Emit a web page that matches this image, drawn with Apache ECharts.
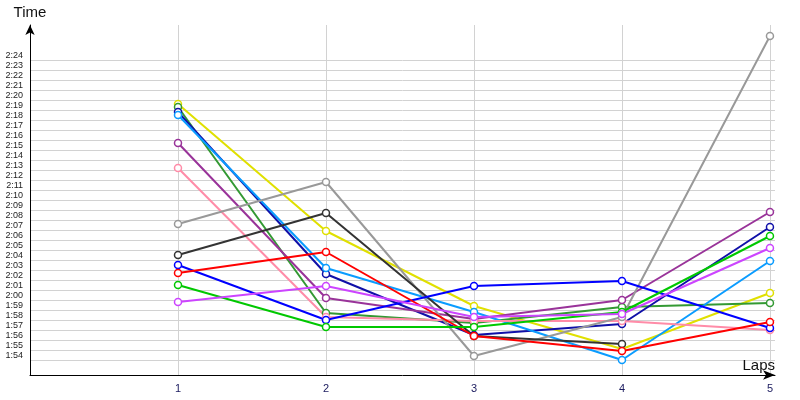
<!DOCTYPE html>
<html>
<head>
<meta charset="utf-8">
<script src="https://cdn.jsdelivr.net/npm/echarts@6/dist/echarts.min.js"></script>
<style>html,body{margin:0;padding:0;background:#fff}#c{width:800px;height:400px}</style>
</head>
<body>
<div id="c"></div>
<script>
// Lap numbers
const laps = [1, 2, 3, 4, 5];
// Lap times in seconds
const yellow     = [139.6, 126.9, 119.4, 115.1, 120.7];
const darkGreen  = [139.3, 118.7, 117.7, 119.3, 119.7];
const navy       = [138.8, 122.6, 116.5, 117.6, 127.3];
const lightBlue  = [138.5, 123.2, 118.8, 114.0, 123.9];
const purple     = [135.7, 120.2, 118.1, 120.0, 128.8];
const pink       = [133.2, 118.3, 117.9, 117.9, 117.0];
const gray       = [127.6, 131.8, 114.4, 118.3, 146.4];
const black      = [124.5, 128.7, 116.4, 115.6, null];
const blue       = [123.5, 118.0, 121.4, 121.9, 117.2];
const red        = [122.7, 124.8, 116.4, 114.9, 117.8];
const green      = [121.5, 117.3, 117.3, 118.8, 126.4];
const violet     = [119.8, 121.4, 118.3, 118.6, 125.2];
// Y tick labels (seconds) shown on the axis
const yTickMin = 114, yTickMax = 144;

const seriesDefs = [
  ['yellow', yellow, '#e0e000'],
  ['darkGreen', darkGreen, '#339933'],
  ['navy', navy, '#1010a8'],
  ['lightBlue', lightBlue, '#0a9cff'],
  ['purple', purple, '#993399'],
  ['pink', pink, '#ff8ca8'],
  ['gray', gray, '#999999'],
  ['black', black, '#333333'],
  ['blue', blue, '#0000ff'],
  ['red', red, '#ff0000'],
  ['green', green, '#00c800'],
  ['violet', violet, '#cc44ff']
];

const yMin = 112.5, yMax = 147.5, yStep = 0.5;
const yColors = [];
for (let v = yMin; v <= yMax + 1e-9; v += yStep) {
  const ok = Number.isInteger(v) && v >= yTickMin && v <= yTickMax;
  yColors.push(ok ? '#d2d2d2' : 'rgba(0,0,0,0)');
}
const xColors = ['rgba(0,0,0,0)', '#d2d2d2', '#d2d2d2', '#d2d2d2', '#d2d2d2', '#d2d2d2', 'rgba(0,0,0,0)'];

function fmtTime(v) {
  const m = Math.floor(v / 60), s = Math.round(v - m * 60);
  return m + ':' + (s < 10 ? '0' : '') + s;
}

const chart = echarts.init(document.getElementById('c'), null, {renderer: 'canvas'});
chart.setOption({
  animation: false,
  backgroundColor: '#fff',
  grid: {left: 30, right: 25, top: 25, bottom: 25, containLabel: false},
  xAxis: {
    type: 'value', min: 0, max: 5.034, interval: 1,
    name: 'Laps', nameLocation: 'end', nameGap: 0,
    nameTextStyle: {fontFamily: 'Liberation Sans', fontSize: 15, color: '#111', align: 'right', verticalAlign: 'bottom', padding: [0, 0, 2, 0]},
    axisLine: {show: true, lineStyle: {color: '#000', width: 1}, symbol: ['none', 'arrow'], symbolSize: [7, 12]},
    axisTick: {show: false},
    axisLabel: {fontFamily: 'Liberation Sans', fontSize: 11, color: '#1a1a5e', margin: 8,
      formatter: v => (Number.isInteger(v) && v >= 1 && v <= 5) ? String(v) : ''},
    splitLine: {show: true, lineStyle: {color: xColors, width: 1}}
  },
  yAxis: {
    type: 'value', min: yMin, max: yMax, interval: yStep,
    name: 'Time', nameLocation: 'end', nameGap: 5,
    nameTextStyle: {fontFamily: 'Liberation Sans', fontSize: 15, color: '#111', align: 'center'},
    axisLine: {show: true, lineStyle: {color: '#000', width: 1}, symbol: ['none', 'arrow'], symbolSize: [7, 10]},
    axisTick: {show: false},
    axisLabel: {fontFamily: 'Liberation Sans', fontSize: 9, color: '#222', margin: 7, verticalAlign: 'bottom',
      formatter: v => (Number.isInteger(v) && v >= yTickMin && v <= yTickMax) ? fmtTime(v) : ''},
    splitLine: {show: true, lineStyle: {color: yColors, width: 1}}
  },
  series: seriesDefs.map(([name, vals, color]) => ({
    name: name, type: 'line',
    data: laps.map((l, i) => [l, vals[i]]),
    connectNulls: false,
    symbol: 'circle', symbolSize: 7, showSymbol: true,
    lineStyle: {color: color, width: 2},
    itemStyle: {color: '#fff', borderColor: color, borderWidth: 1.5},
    clip: false
  }))
});
</script>
</body>
</html>
